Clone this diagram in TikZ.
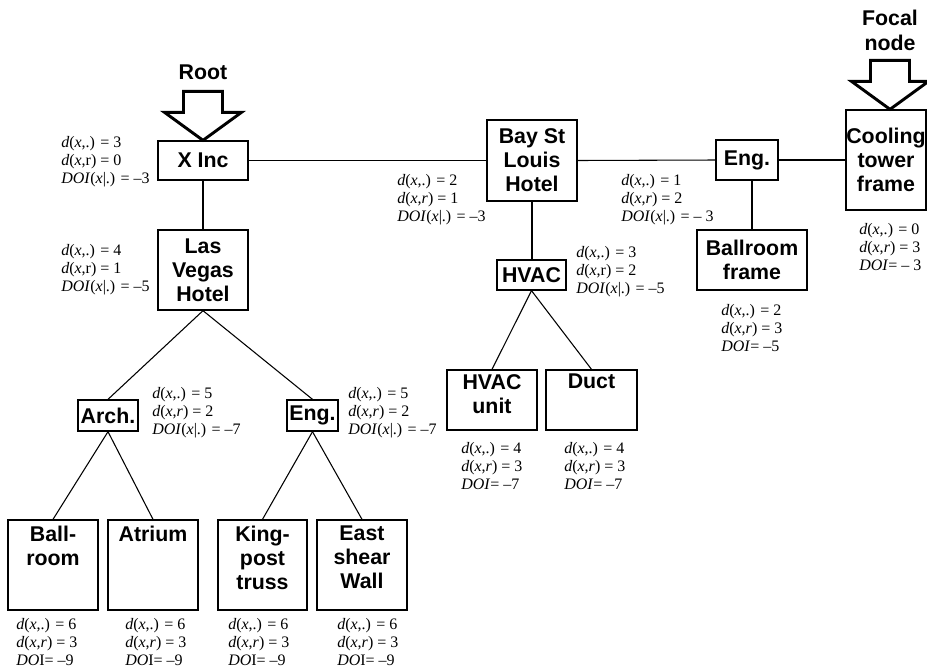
\documentclass[tikz,border=0pt]{standalone}
\usepackage{fontspec}
\setmainfont{Liberation Serif}
\newfontfamily\labelsans{Liberation Sans}

% fonts for box captions and for the DOI annotations
\newcommand\boxfnt{\labelsans\bfseries\fontsize{16}{18}\selectfont}
\newcommand\notefnt{\fontsize{12}{13.5}\selectfont}

% annotation lines
\newcommand\dxdot[1]{\textit{d}(\textit{x},.) = #1}
\newcommand\dxrup[1]{\textit{d}(\textit{x},r) = #1}
\newcommand\dxrit[1]{\textit{d}(\textit{x},\textit{r}) = #1}
\newcommand\doix[1]{\textit{DOI}(\textit{x}|.) = #1}
\newcommand\doieq[1]{\textit{DOI}= #1}
\newcommand\doieqb[1]{\textit{DO}I= #1}

\tikzset{
  treebox/.style={draw, line width=1pt, inner sep=0pt, font=\boxfnt, align=center},
  boxwh/.style 2 args={minimum width=#1*0.75pt, minimum height=#2*0.75pt},
  boxcap/.style={anchor=north, inner sep=0pt, font=\boxfnt, align=center},
  conn/.style={line width=0.8pt},
  note/.style={anchor=west, align=left, inner sep=0pt, font=\notefnt},
  headtext/.style={inner sep=0pt, font=\boxfnt, align=center},
  downarrow/.pic={
    \draw[line width=2.2pt, line join=miter]
      (-19.5,-49) -- (19.5,-49) -- (19.5,-28) -- (38.5,-28) -- (0,0)
      -- (-38.5,-28) -- (-19.5,-28) -- cycle;
  }
}

\begin{document}
\begin{tikzpicture}[x=0.75pt, y=-0.75pt]
\useasboundingbox (0,0) rectangle (927,668);

% upper row
\node[treebox, boxwh={90}{39}] (xinc) at (203,160.5) {X Inc};
\node[treebox, boxwh={90}{81}] (bsl) at (532,160.5) {Bay St\\Louis\\Hotel};
\node[treebox, boxwh={62}{40}] (engu) at (747,160) {Eng.};
\node[treebox, boxwh={80}{100}] (cool) at (886,160) {Cooling\\tower\\frame};

% second level
\node[treebox, boxwh={90}{80}] (lv) at (203,270) {Las\\Vegas\\Hotel};
\node[treebox, boxwh={69}{30}] (hvac) at (531.5,275) {HVAC};
\node[treebox, boxwh={110}{60}] (bframe) at (752,260) {Ballroom\\frame};

% third level
\node[treebox, boxwh={60}{31}] (arch) at (108,415.5) {Arch.};
\node[treebox, boxwh={51}{31}] (engl) at (312.5,415.5) {Eng.};
\node[treebox, boxwh={90}{60},
  label={[boxcap, yshift=-3.5pt]north:HVAC\\unit}] (hvacunit) at (492,400) {};
\node[treebox, boxwh={91}{60},
  label={[boxcap, yshift=-3.5pt]north:Duct}] (duct) at (591.5,400) {};

% leaves
\node[treebox, boxwh={90}{90},
  label={[boxcap, yshift=-5pt]north:Ball-\\room}] (ballroom) at (53,565) {};
\node[treebox, boxwh={90}{90},
  label={[boxcap, yshift=-5pt]north:Atrium}] (atrium) at (153,565) {};
\node[treebox, boxwh={89}{90},
  label={[boxcap, yshift=-5pt]north:King-\\post\\truss}] (kingpost) at (262.5,565) {};
\node[treebox, boxwh={90}{90},
  label={[boxcap, yshift=-5pt]north:East\\shear\\Wall}] (eastwall) at (362,565) {};

% connectors
\draw[conn] (xinc.south) -- (lv.north);
\draw[conn] (xinc.east) -- (bsl.west);
\draw[conn] (bsl.east) -- (engu.west);
\draw[conn] (engu.east) -- (cool.west);
\draw[conn] (bsl.south) -- (bsl.south |- hvac.north);
\draw[conn] (bframe.north) -- (bframe.north |- engu.south);
\draw[conn] (lv.south) -- (arch.north);
\draw[conn] (lv.south) -- (engl.north);
\draw[conn] (arch.south) -- (ballroom.north);
\draw[conn] (arch.south) -- (atrium.north);
\draw[conn] (engl.south) -- (kingpost.north);
\draw[conn] (engl.south) -- (eastwall.north);
\draw[conn] (hvac.south) -- (hvacunit.north);
\draw[conn] (hvac.south) -- (duct.north);

% pointers
\pic at (xinc.north) {downarrow};
\pic at ([xshift=3pt]cool.north) {downarrow};
\node[headtext] (roottxt) at (203,72) {Root};
\node[headtext, font=\labelsans\bfseries\fontsize{16}{18.75}\selectfont] (focaltxt) at (890,30.5) {Focal\\node};

% annotations
\node[note] (n-xinc) at (61,162) {\dxdot{3}\\\dxrup{0}\\\doix{–3}};
\node[note] (n-lv) at (61,270) {\dxdot{4}\\\dxrup{1}\\\doix{–5}};
\node[note] (n-bsl) at (397,200) {\dxdot{2}\\\dxrit{1}\\\doix{–3}};
\node[note] (n-engu) at (621,200) {\dxdot{1}\\\dxrit{2}\\\doix{– 3}};
\node[note] (n-hvac) at (576,272) {\dxdot{3}\\\dxrup{2}\\\doix{–5}};
\node[note] (n-cool) at (859,247) {\dxdot{0}\\\dxrit{3}\\\doieq{– 3}};
\node[note] (n-bframe) at (721,328) {\dxdot{2}\\\dxrit{3}\\\doieq{–5}};
\node[note] (n-arch) at (152,413) {\dxdot{5}\\\dxrit{2}\\\doix{–7}};
\node[note] (n-engl) at (348,413) {\dxdot{5}\\\dxrit{2}\\\doix{–7}};
\node[note] (n-hvacunit) at (461,466) {\dxdot{4}\\\dxrit{3}\\\doieq{–7}};
\node[note] (n-duct) at (564,466) {\dxdot{4}\\\dxrit{3}\\\doieq{–7}};
\node[note] (n-ballroom) at (16,642) {\dxdot{6}\\\dxrit{3}\\\doieqb{–9}};
\node[note] (n-atrium) at (125,642) {\dxdot{6}\\\dxrit{3}\\\doieqb{–9}};
\node[note] (n-kingpost) at (228,642) {\dxdot{6}\\\dxrit{3}\\\doieqb{–9}};
\node[note] (n-eastwall) at (337,642) {\dxdot{6}\\\dxrit{3}\\\doieqb{–9}};
\end{tikzpicture}
\end{document}
